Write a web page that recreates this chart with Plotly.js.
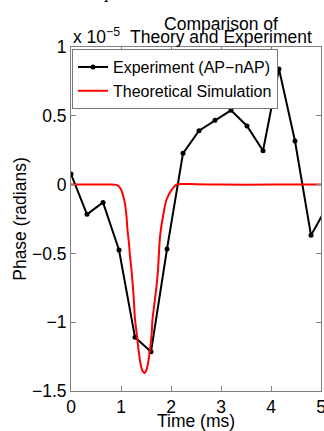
<!DOCTYPE html>
<html>
<head>
<meta charset="utf-8">
<script src="https://cdn.plot.ly/plotly-3.0.1.min.js"></script>
<style>html,body{margin:0;padding:0;background:#fff;}#chart{width:324px;height:431px;}</style>
</head>
<body>
<div id="chart"></div>
<script>
// Values in units of 1e-5 radians
const expTime = [0, 0.32, 0.64, 0.96, 1.28, 1.6, 1.92, 2.24, 2.56, 2.88, 3.2, 3.52, 3.84, 4.16, 4.48, 4.8, 5.12];
const expPhase = [0.077, -0.216, -0.13, -0.475, -1.11, -1.215, -0.468, 0.227, 0.392, 0.467, 0.54, 0.426, 0.246, 0.84, 0.317, -0.369, -0.16];

const simTime = [0, 0.5, 0.8, 0.9, 0.95, 1.0, 1.05, 1.08, 1.11, 1.13, 1.16, 1.18, 1.21, 1.25, 1.28, 1.32, 1.35, 1.4, 1.44, 1.47, 1.5, 1.53, 1.58, 1.61, 1.63, 1.67, 1.71, 1.74, 1.78, 1.85, 1.91, 2.01, 2.11, 2.2, 2.5, 3.0, 4.0, 5.0];
const simPhase = [0, 0, 0, -0.002, -0.01, -0.035, -0.09, -0.14, -0.23, -0.33, -0.43, -0.52, -0.62, -0.8, -0.98, -1.1, -1.2, -1.32, -1.36, -1.37, -1.355, -1.32, -1.2, -1.1, -0.98, -0.86, -0.74, -0.62, -0.38, -0.21, -0.11, -0.04, 0, 0.005, 0.003, 0, 0, 0];

const xTicks = [0, 1, 2, 3, 4, 5];
const yTicks = [-1.5, -1, -0.5, 0, 0.5, 1];
const yTickText = ['\u22121.5', '\u22121', '\u22120.5', '0', '0.5', '1'];

const FONT = 'Liberation Sans, Arial, Helvetica, sans-serif';
const FS = 17.5;

const traces = [
  {
    x: expTime, y: expPhase, type: 'scatter', mode: 'lines+markers',
    name: 'Experiment (AP\u2212nAP)',
    line: {color: '#000000', width: 2},
    marker: {color: '#000000', size: 5}
  },
  {
    x: simTime, y: simPhase, type: 'scatter', mode: 'lines',
    name: 'Theoretical Simulation',
    line: {color: '#ff0000', width: 2, shape: 'spline', smoothing: 0.6}
  }
];

const axisCommon = {
  showline: true, linecolor: '#808080', linewidth: 1, mirror: 'ticks',
  ticks: 'inside', ticklen: 5, tickcolor: '#808080', tickwidth: 1,
  showgrid: false, zeroline: false,
  tickfont: {family: FONT, size: FS, color: '#000'}
};

const layout = {
  width: 324, height: 431,
  margin: {l: 71, r: 3, t: 47, b: 40, pad: 0},
  paper_bgcolor: '#fff', plot_bgcolor: '#fff',
  font: {family: FONT, size: FS, color: '#000'},
  showlegend: true,
  title: {
    text: 'Comparison of',
    font: {family: FONT, size: FS, color: '#000'},
    xref: 'container', yref: 'container',
    x: 221 / 324, xanchor: 'center',
    y: 1 - 30 / 431, yanchor: 'bottom'
  },
  xaxis: Object.assign({}, axisCommon, {
    range: [0, 5], tickmode: 'array', tickvals: xTicks,
    ticktext: xTicks.map(String), ticklabeloverflow: 'allow',
    title: {text: 'Time (ms)', font: {family: FONT, size: FS, color: '#000'}}
  }),
  yaxis: Object.assign({}, axisCommon, {
    range: [-1.5, 1], tickmode: 'array', tickvals: yTicks, ticktext: yTickText,
    ticklabeloverflow: 'allow',
    title: {text: 'Phase (radians)', font: {family: FONT, size: FS, color: '#000'}}
  }),
  legend: {
    x: 0.004, y: 0.994, xanchor: 'left', yanchor: 'top',
    bgcolor: '#ffffff', bordercolor: '#777777', borderwidth: 1,
    font: {family: FONT, size: 16, color: '#000'},
    tracegroupgap: 0, itemwidth: 30
  },
  annotations: [
    {
      text: 'Theory and Experiment', xref: 'paper', yref: 'paper',
      x: (221 - 71) / 250, y: (391 - 49) / 344, xanchor: 'center', yanchor: 'bottom',
      showarrow: false, font: {family: FONT, size: FS, color: '#000'}
    },
    {
      text: 'x 10<sup>\u22125</sup>', xref: 'paper', yref: 'paper',
      x: 0, y: (391 - 49) / 344, xanchor: 'left', yanchor: 'bottom',
      showarrow: false, font: {family: FONT, size: FS, color: '#000'}
    },
    {
      text: 'p', xref: 'paper', yref: 'paper',
      x: (102 - 71) / 250, y: (391 + 8) / 344, xanchor: 'left', yanchor: 'middle',
      showarrow: false, font: {family: 'Liberation Serif, Times New Roman, serif', size: 18, color: '#000'}
    }
  ]
};

Plotly.newPlot('chart', traces, layout, {staticPlot: true, displayModeBar: false});
</script>
</body>
</html>
